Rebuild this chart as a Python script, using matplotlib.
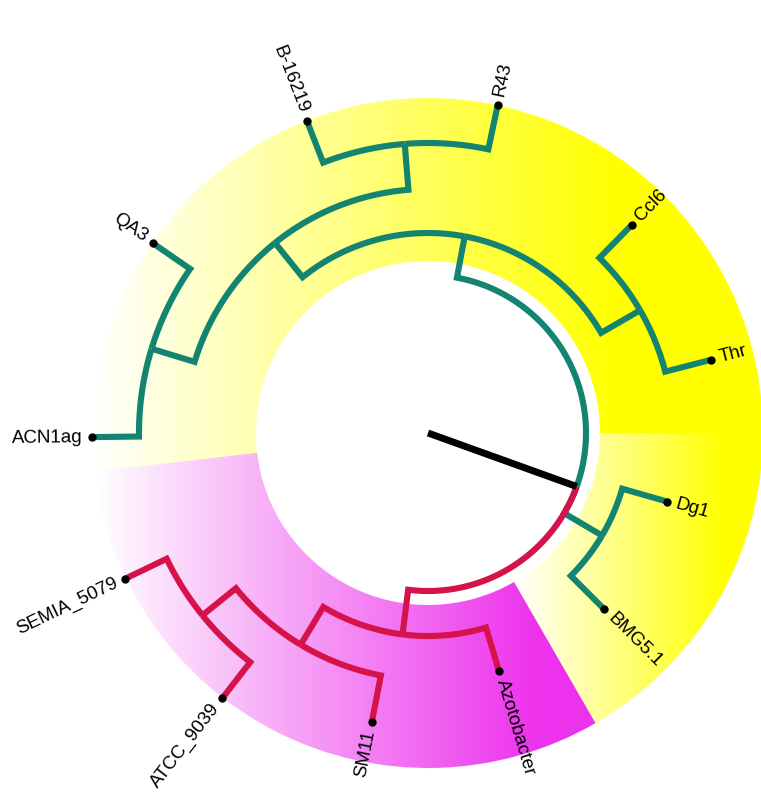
import numpy as np
import matplotlib
matplotlib.use('Agg')
import matplotlib.pyplot as plt
from matplotlib.patches import Wedge

# leaves of the circular tree: angle (deg) and distance from the root centre (px)
leaf_names = ['Thr', 'Ccl6', 'R43', 'B-16219', 'QA3', 'ACN1ag',
              'SEMIA_5079', 'ATCC_9039', 'SM11', 'Azotobacter', 'BMG5.1', 'Dg1']
leaf_angle = [14.5, 45.6, 78.0, 111.2, 145.4, 180.7,
              205.7, 232.2, 259.0, 286.6, 315.0, 344.0]
leaf_depth = [292, 291, 335, 335, 334, 336, 336, 336, 294, 248, 249, 249]

# internal nodes: children and depth
node_children = {
    'ct': ['Thr', 'Ccl6'],
    'br': ['R43', 'B-16219'],
    'qa': ['QA3', 'ACN1ag'],
    'brqa': ['br', 'qa'],
    'teal': ['ct', 'brqa'],
    'sa': ['SEMIA_5079', 'ATCC_9039'],
    'sas': ['sa', 'SM11'],
    'red': ['sas', 'Azotobacter'],
    'db': ['BMG5.1', 'Dg1'],
    'root': ['db', 'teal', 'red'],
}
node_depth = {'ct': 245, 'br': 290, 'qa': 289, 'brqa': 244, 'teal': 200,
              'sa': 290, 'sas': 247, 'red': 203, 'db': 202, 'root': 158}
root_angle = -19.8
clade_colors = {'teal': '#128470', 'db': '#128470', 'red': '#d5124a'}

# shaded clade sectors
hl_theta1 = [0, -60, 186.6]
hl_theta2 = [186.6, 0, 300]
hl_colors = [(1.0, 1.0, 0.0), (1.0, 1.0, 0.0), (0.93, 0.2, 0.93)]
hl_reach = [0.78, 0.85, 0.88]   # fraction of sector width where the full colour is reached
hl_r_in = 172
hl_r_out = 335

CX, CY = 428, 360


def xy(ang, r):
    a = np.radians(ang)
    return CX + r * np.cos(a), CY + r * np.sin(a)


angle = dict(zip(leaf_names, leaf_angle))
depth = dict(zip(leaf_names, leaf_depth))
depth.update(node_depth)

# keep the angles continuous across the red clade
for n in leaf_names:
    if angle[n] > 190:
        angle[n] -= 360


def node_angle(n):
    if n in angle:
        return angle[n]
    kids = [node_angle(c) for c in node_children[n]]
    angle[n] = (min(kids) + max(kids)) / 2
    return angle[n]


node_angle('root')
angle['root'] = root_angle

fig = plt.figure(figsize=(7.61, 7.93), dpi=100)
ax = fig.add_axes([0, 0, 1, 1])
ax.set_xlim(0, 761)
ax.set_ylim(0, 793)
ax.axis('off')

# gradient sectors
for t1, t2, col, reach in zip(hl_theta1, hl_theta2, hl_colors, hl_reach):
    w = Wedge((CX, CY), hl_r_out, t1, t2, width=hl_r_out - hl_r_in,
              facecolor='none', edgecolor='none')
    ax.add_patch(w)
    th = np.linspace(t1, t2, 200)
    xs = np.concatenate([xy(th, hl_r_out)[0], xy(th, hl_r_in)[0]])
    x0, x1 = xs.min(), xs.max()
    gx = np.linspace(0, 761, 400)
    t = np.clip((gx - x0) / ((x1 - x0) * reach), 0, 1)
    img = np.ones((2, len(gx), 3))
    for k in range(3):
        img[:, :, k] = 1 + (col[k] - 1) * t
    im = ax.imshow(img, extent=(0, 761, 0, 793), origin='lower',
                   aspect='auto', interpolation='bilinear', zorder=1)
    im.set_clip_path(w)


def draw(n, col):
    a0 = angle[n]
    r0 = depth[n]
    for c in node_children[n]:
        ccol = clade_colors.get(c, col)
        a1 = angle[c]
        arc = np.linspace(a0, a1, 80)
        px, py = xy(arc, r0)
        qx, qy = xy(a1, depth[c])
        ax.plot(np.append(px, qx), np.append(py, qy), color=ccol, lw=4.4,
                solid_joinstyle='miter', solid_capstyle='butt', zorder=3)
        if c in node_children:
            draw(c, ccol)
        else:
            ax.plot(qx, qy, 'o', color='black', ms=5, zorder=4)
            a = a1 % 360
            if 90 < a < 270:
                rot, ha = a - 180, 'right'
            else:
                rot, ha = (a + 180) % 360 - 180, 'left'
            tx, ty = xy(a1, depth[c] + 9)
            ax.text(tx, ty, c, rotation=rot, ha=ha, va='center',
                    rotation_mode='anchor', fontsize=13.5,
                    family='Liberation Sans', zorder=5)


draw('root', 'black')

# root stem
sx, sy = xy(root_angle, np.array([0, depth['root']]))
ax.plot(sx, sy, color='black', lw=5, solid_capstyle='butt', zorder=4)

fig.savefig('out.png', dpi=100, facecolor='white')
